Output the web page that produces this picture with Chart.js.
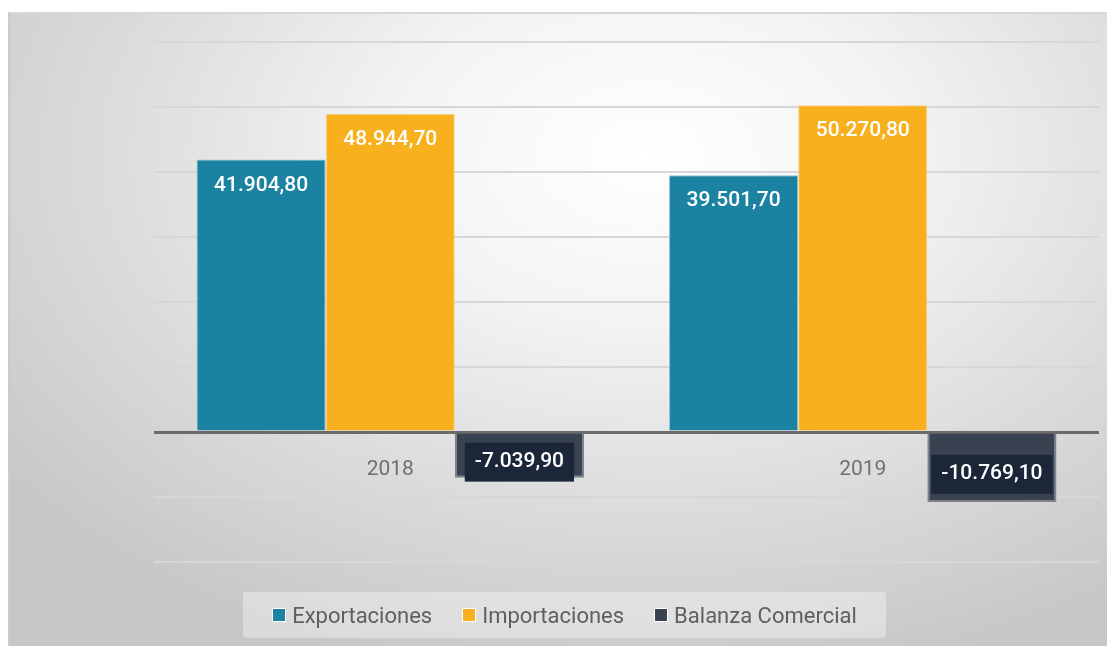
<!DOCTYPE html>
<html>
<head>
<meta charset="utf-8">
<script src="https://cdn.jsdelivr.net/npm/chart.js@4.4.0/dist/chart.umd.min.js"></script>
<style>
  html, body { margin: 0; padding: 0; background: #fff; }
  #frame {
    position: absolute; left: 8px; top: 12px; width: 1097px; height: 640px;
    border-left: 2px solid #cacad2; border-top: 2px solid #d6d6dc;
    background: radial-gradient(ellipse 75% 85% at 58% 22%, #ffffff 0%, #f4f4f4 30%, #dcdcdc 65%, #c6c6c6 100%);
  }
  #chart { position: absolute; left: 0; top: 0; }
  #legend {
    position: absolute; left: 243px; top: 592px; width: 643px; height: 46px;
    background: rgba(255,255,255,0.35); border-radius: 3px;
    display: flex; align-items: center; justify-content: center;
    font-family: Roboto, sans-serif; font-size: 22px; color: #5f5f5f;
  }
  #legend .item { display: flex; align-items: center; margin: 0 15px; }
  #legend .box { width: 12px; height: 12px; margin-right: 6px; border: 1px solid #fff; }
</style>
</head>
<body>
<div id="frame"></div>
<canvas id="chart" width="1107" height="646"></canvas>
<div id="legend"></div>
<script>
const years = ['2018', '2019'];
const seriesNames = ['Exportaciones', 'Importaciones', 'Balanza Comercial'];
const exportaciones = [41904.8, 39501.7];
const importaciones = [48944.7, 50270.8];
const balanza = [-7039.9, -10769.1];
const yTicks = [-20000, -10000, 0, 10000, 20000, 30000, 40000, 50000, 60000];

const fills = ['#1b83a1', '#f8b01e', '#3a4251'];
const borders = ['#8cc3d4', '#fcd68a', '#7c828b'];

function formatEs(v) {
    const neg = v < 0;
    const parts = Math.abs(v).toFixed(2).split('.');
    const intPart = parts[0].replace(/\B(?=(\d{3})+(?!\d))/g, '.');
    return (neg ? '-' : '') + intPart + ',' + parts[1];
}

// etiquetas de valor dentro de las barras
const labelPlugin = {
    id: 'barLabels',
    afterDatasetsDraw(chart) {
        const ctx = chart.ctx;
        ctx.save();
        ctx.font = '500 21px Roboto';
        ctx.textAlign = 'center';
        ctx.textBaseline = 'middle';
        chart.data.datasets.forEach((ds, di) => {
            const meta = chart.getDatasetMeta(di);
            meta.data.forEach((bar, i) => {
                const v = ds.data[i];
                const txt = formatEs(v);
                let y;
                if (v >= 0) {
                    y = bar.y + 26;
                } else {
                    y = (bar.y + bar.base) / 2 + 6;
                    const w = ctx.measureText(txt).width + 20;
                    ctx.fillStyle = '#1b2638';
                    ctx.fillRect(bar.x - w / 2, y - 19, w, 39);
                }
                ctx.fillStyle = '#ffffff';
                ctx.fillText(txt, bar.x, y);
            });
        });
        ctx.restore();
    }
};

const datasets = [exportaciones, importaciones, balanza].map((d, i) => ({
    label: seriesNames[i],
    data: d,
    backgroundColor: fills[i],
    borderColor: borders[i],
    borderWidth: i === 2 ? 2 : 1,
    categoryPercentage: 0.82,
    barPercentage: 1.0
}));

new Chart(document.getElementById('chart').getContext('2d'), {
    type: 'bar',
    data: { labels: years, datasets: datasets },
    options: {
        responsive: false,
        animation: false,
        layout: { padding: { left: 154, right: 8, top: 42, bottom: 84 } },
        plugins: { legend: { display: false }, tooltip: { enabled: false } },
        scales: {
            x: {
                position: { y: 0 },
                grid: { display: false },
                border: { display: false },
                ticks: { color: '#707070', font: { family: 'Roboto', size: 21 }, padding: 17 }
            },
            y: {
                min: yTicks[0],
                max: yTicks[yTicks.length - 1],
                afterBuildTicks: (axis) => { axis.ticks = yTicks.map(v => ({ value: v })); },
                ticks: { display: false },
                border: { display: false },
                grid: {
                    drawTicks: false,
                    color: (c) => c.tick && c.tick.value === 0 ? '#6a6a6a' : '#d7d7d7',
                    lineWidth: (c) => c.tick && c.tick.value === 0 ? 3 : 2
                }
            }
        }
    },
    plugins: [labelPlugin]
});

const legend = document.getElementById('legend');
seriesNames.forEach((name, i) => {
    const item = document.createElement('div');
    item.className = 'item';
    const box = document.createElement('span');
    box.className = 'box';
    box.style.background = fills[i];
    const txt = document.createElement('span');
    txt.textContent = name;
    item.appendChild(box);
    item.appendChild(txt);
    legend.appendChild(item);
});
</script>
</body>
</html>
